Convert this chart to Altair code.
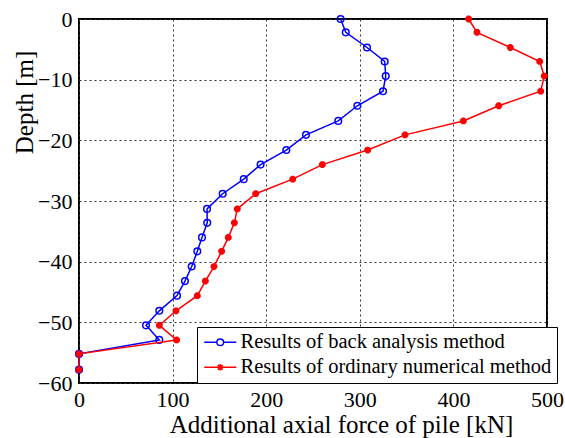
import altair as alt
import pandas as pd

# Depth of the measurement nodes along the pile [m]
depth = [0, -2.2, -4.7, -7.0, -9.4, -11.9, -14.3, -16.8, -19.1, -21.6, -24.0,
         -26.4, -28.8, -31.3, -33.6, -36.0, -38.3, -40.8, -43.2, -45.6, -48.1,
         -50.5, -52.9, -55.2, -57.8]

# Additional axial force [kN] from the back analysis
back_force = [279.5, 285.0, 307.7, 326.6, 327.7, 324.8, 297.4, 277.0, 242.5,
              221.5, 194.0, 176.0, 153.5, 136.8, 137.0, 131.4, 126.4, 120.4,
              113.2, 104.7, 85.8, 71.6, 85.8, 0.0, 0.0]

# Additional axial force [kN] from the ordinary numerical model
ordinary_force = [416.3, 425.2, 460.8, 492.2, 497.1, 493.3, 448.4, 410.6,
                  348.3, 308.4, 260.0, 228.3, 188.8, 169.1, 166.0, 159.5,
                  152.4, 144.2, 135.0, 126.4, 103.6, 85.8, 104.3, 0.0, 0.0]

series_names = ["Results of back analysis method",
                "Results of ordinary numerical method"]
series_colors = ["#0000ff", "#ff0000"]

x_ticks = [0, 100, 200, 300, 400, 500]
y_ticks = [0, -10, -20, -30, -40, -50, -60]

rows = []
for name, forces in zip(series_names, [back_force, ordinary_force]):
    for i, (f, d) in enumerate(zip(forces, depth)):
        rows.append({"method": name, "force": f, "depth": d, "idx": i})
df = pd.DataFrame(rows)

FONT = "'Liberation Serif', 'DejaVu Serif', serif"
W, H = 468, 364

# marker shapes: open circle and an asterisk
asterisk = "M-1,0L1,0M0,-1L0,1M-0.7,-0.7L0.7,0.7M-0.7,0.7L0.7,-0.7"
# legend glyphs: a short line with the marker in its middle
legend_circle = ("M-2,0L-0.42,0M0.42,0L2,0"
                 "M0.42,0A0.42,0.42,0,1,1,-0.42,0A0.42,0.42,0,1,1,0.42,0")
legend_star = ("M-2,0L2,0M0,-0.42L0,0.42M-0.3,-0.3L0.3,0.3"
               "M-0.3,0.3L0.3,-0.3")

x_enc = alt.X(
    "force:Q",
    scale=alt.Scale(domain=[0, 500], nice=False, zero=False),
    axis=alt.Axis(
        values=x_ticks, grid=True, gridDash=[2, 3], gridColor="#333333",
        gridWidth=1, ticks=False, domain=False, labelFont=FONT,
        labelFontSize=22, labelColor="black", labelPadding=6,
        labelFlush=False, title="Additional axial force of pile [kN]",
        titleFont=FONT, titleFontSize=25, titleFontWeight="normal",
        titleColor="black", titleX=262, titleY=49, titleAlign="center",
        titleBaseline="alphabetic",
    ),
)
y_enc = alt.Y(
    "depth:Q",
    scale=alt.Scale(domain=[-60, 0], nice=False, zero=False),
    axis=alt.Axis(
        values=y_ticks, grid=True, gridDash=[2, 3], gridColor="#333333",
        gridWidth=1, ticks=False, domain=False, labelFont=FONT,
        labelFontSize=22, labelColor="black", labelPadding=7,
        labelFlush=False, title="Depth [m]", titleFont=FONT,
        titleFontSize=25, titleFontWeight="normal", titleColor="black",
        titleX=-55, titleY=83, titleAlign="center", titleBaseline="middle",
        titleAngle=270,
    ),
)

base = alt.Chart(df).encode(x=x_enc, y=y_enc, order="idx:Q")

layers = []
for name, color, is_back in zip(series_names, series_colors, [True, False]):
    sub = base.transform_filter(alt.datum.method == name)
    layers.append(sub.mark_line(color=color, strokeWidth=1.5, clip=False))
    if is_back:
        layers.append(sub.mark_point(shape="circle", filled=False, color=color,
                                     size=44, strokeWidth=1.5, opacity=1,
                                     clip=False))
    else:
        layers.append(sub.mark_point(shape=asterisk, filled=False, color=color,
                                     size=46, strokeWidth=2.5, opacity=1,
                                     clip=False))

legend_cfg = dict(
    title=None, orient="none", legendX=118, legendY=308,
    direction="vertical", fillColor="white", strokeColor="black",
    padding=5, symbolSize=256, symbolOffset=8, symbolStrokeWidth=1.5,
    labelFont=FONT, labelFontSize=20.5, labelColor="black", labelOffset=10,
    rowPadding=4, labelLimit=500, cornerRadius=0,
)

# legend-only layer (no rows drawn)
legend_layer = base.transform_filter("false").mark_point(
    filled=False, opacity=1, strokeWidth=1.5
).encode(
    color=alt.Color("method:N",
                    scale=alt.Scale(domain=series_names, range=series_colors),
                    legend=alt.Legend(**legend_cfg)),
    shape=alt.Shape("method:N",
                    scale=alt.Scale(domain=series_names,
                                    range=[legend_circle, legend_star]),
                    legend=alt.Legend(**legend_cfg)),
)

chart = alt.layer(*layers, legend_layer).properties(
    width=W, height=H, autosize="none",
    padding={"left": 79, "top": 19, "right": 18, "bottom": 55},
    background="white",
).configure_view(stroke="black", strokeWidth=2)

chart.save("out.html", embed_options={"renderer": "svg", "actions": False})
